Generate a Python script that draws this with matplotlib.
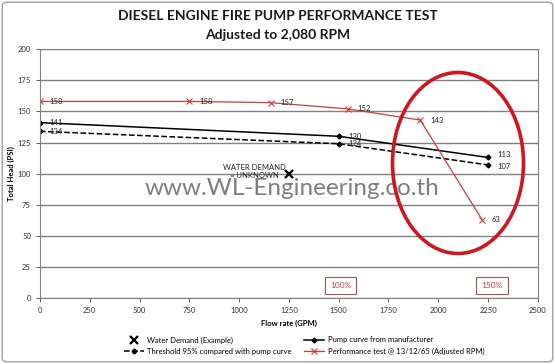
import matplotlib.pyplot as plt
from matplotlib.patches import Ellipse, FancyBboxPatch

plt.rcParams['font.family'] = ['Lato', 'DejaVu Sans']

# data
pump_x = [0, 1500, 2250]
pump_y = [141, 130, 113]
thr_x = [0, 1500, 2250]
thr_y = [134, 124, 107]
perf_x = [0, 750, 1160, 1545, 1910, 2220]
perf_y = [158, 158, 157, 152, 143, 63]
demand_x = [1250]
demand_y = [100]
x_ticks = [0, 250, 500, 750, 1000, 1250, 1500, 1750, 2000, 2250, 2500]
y_ticks = [0, 25, 50, 75, 100, 125, 150, 175, 200]

red = '#d23a3a'

fig = plt.figure(figsize=(5.55, 3.64), dpi=100)
ax = fig.add_axes([0.072, 0.181, 0.897, 0.684])

ax.set_xlim(0, 2500)
ax.set_ylim(0, 200)
ax.set_xticks(x_ticks)
ax.set_yticks(y_ticks)
ax.tick_params(labelsize=5.5, colors='#404040', length=3, width=0.6)
for t in ax.get_xticklabels() + ax.get_yticklabels():
    t.set_color('#333333')
ax.grid(axis='y', color='#808080', lw=1.0)
ax.set_axisbelow(True)
for s in ax.spines.values():
    s.set_color('#808080')
    s.set_linewidth(0.8)

ax.plot(demand_x, demand_y, 'x', color='black', ms=6, mew=1.6,
        label='Water Demand (Example)')
ax.plot(thr_x, thr_y, '--D', color='black', ms=2.5, lw=1.1,
        label='Threshold 95% compared with pump curve')
ax.plot(pump_x, pump_y, '-D', color='black', ms=2.5, lw=1.1,
        label='Pump curve from manufacturer')
ax.plot(perf_x, perf_y, '-x', color=red, ms=4, mew=0.8, lw=0.9,
        label='Performance test @ 13/12/65 (Adjusted RPM)')

for xs, ys in [(pump_x, pump_y), (thr_x, thr_y), (perf_x, perf_y)]:
    for x, y in zip(xs, ys):
        dy = 0
        if y == 113:
            dy = 2
        if y == 107:
            dy = -1
        ax.annotate(str(y), (x, y), xytext=(7, dy), textcoords='offset points',
                    fontsize=5.5, color='#222222', va='center', ha='left')

ax.text(1235, 102, 'WATER DEMAND\n= UNKNOWN', fontsize=5.5, ha='right',
        va='center', multialignment='center', color='#222222')

ax.text(1265, 88, 'www.WL-Engineering.co.th', fontsize=17.5, color='#707070',
        ha='center', va='center', alpha=0.9)

ax.set_xlabel('Flow rate (GPM)', fontsize=5.5, fontweight='bold', labelpad=4)
ax.set_ylabel('Total Head (PSI)', fontsize=5.5, fontweight='bold', labelpad=2)

for txt, cx in [('100%', 1510), ('150%', 2270)]:
    ax.text(cx, 10, txt, fontsize=6, color=red, ha='center', va='center',
            bbox=dict(boxstyle='square,pad=0.6', fc='white', ec='#b05050', lw=0.8))

fig.text(0.5, 0.955, 'DIESEL ENGINE FIRE PUMP PERFORMANCE TEST', ha='center',
         va='center', fontsize=10, fontweight='bold', color='#1a1a1a')
fig.text(0.5, 0.905, 'Adjusted to 2,080 RPM', ha='center', va='center',
         fontsize=10, fontweight='bold', color='#1a1a1a')

ell = Ellipse((458 / 555, 1 - 163 / 364), 131 / 555, 181 / 364,
              transform=fig.transFigure, fill=False, ec='#d0161e', lw=2.6,
              clip_on=False)
fig.patches.append(ell)

frame = FancyBboxPatch((0.004, 0.006), 0.992, 0.988, boxstyle='round,pad=0,rounding_size=0.01',
                       transform=fig.transFigure, fill=False, ec='#a0a0a0', lw=1)
fig.patches.append(frame)

leg = fig.legend(loc='center', bbox_to_anchor=(0.548, 0.05), ncol=2, frameon=False,
                 fontsize=5.5, handlelength=2.6, columnspacing=1.6, labelspacing=0.6,
                 handletextpad=0.5)

fig.savefig('out.png', dpi=100)
